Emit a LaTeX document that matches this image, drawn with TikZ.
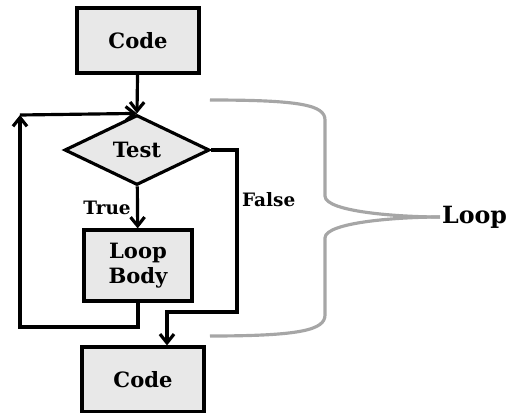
\documentclass[tikz,border=0pt]{standalone}
\usepackage{fontspec}
\setmainfont{DejaVu Serif}
\usetikzlibrary{shapes.geometric,arrows.meta}

\tikzset{
  blk/.style={draw, line width=1.8pt, fill=gray!18, inner sep=0pt,
    font=\bfseries\fontsize{12}{14}\selectfont, align=center},
  lbl/.style={font=\bfseries\fontsize{10.5}{12}\selectfont, inner sep=1pt},
  flow/.style={->, line width=1.8pt},
  brace/.style={line width=1.8pt, gray!70}
}

\begin{document}
\begin{tikzpicture}[x=0.02cm, y=-0.02cm, >={Straight Barb[length=5pt,width=8pt]}]
    \useasboundingbox (0,0) rectangle (512,413);

    % Blocks
    \node[blk, minimum width=122*0.02cm, minimum height=65*0.02cm] (code1) at (138,40.5) {Code};
    \node[blk, diamond, minimum width=145*0.02cm, minimum height=70*0.02cm] (test) at (137,150) {Test};
    \node[blk, minimum width=108*0.02cm, minimum height=71*0.02cm] (body) at (138,265.5) {Loop\\Body};
    \node[blk, minimum width=122*0.02cm, minimum height=65*0.02cm] (code2) at (143,379.5) {Code};

    % Corners
    \coordinate (back) at (20,115);
    \coordinate (exit) at (237,312);

    % Connectors
    \draw[flow] (code1) -- (test.north);
    \draw[flow] (test) -- node[lbl, left, xshift=-2pt] {True} (body);
    \draw[flow] (body.south) |- (20,327) -- (back);
    \draw[flow] (back) -- (test.north);
    \draw[flow] (test.east) -| (exit) -| (code2.north -| 167,0);
    \node[lbl, right] (false) at (240,200) {False};

    % Brace
    \node[font=\bfseries\fontsize{13.5}{16}\selectfont, anchor=west, inner sep=1pt] (loop) at (440,217) {Loop};
    \draw[brace] (210,100) .. controls (300,100) and (325,105) .. (325,120)
      -- (325,196) .. controls (325,212) and (400,217) .. (loop.west);
    \draw[brace] (loop.west) .. controls (400,217) and (325,222) .. (325,238)
      -- (325,315) .. controls (325,330) and (300,336) .. (210,336);
\end{tikzpicture}
\end{document}
